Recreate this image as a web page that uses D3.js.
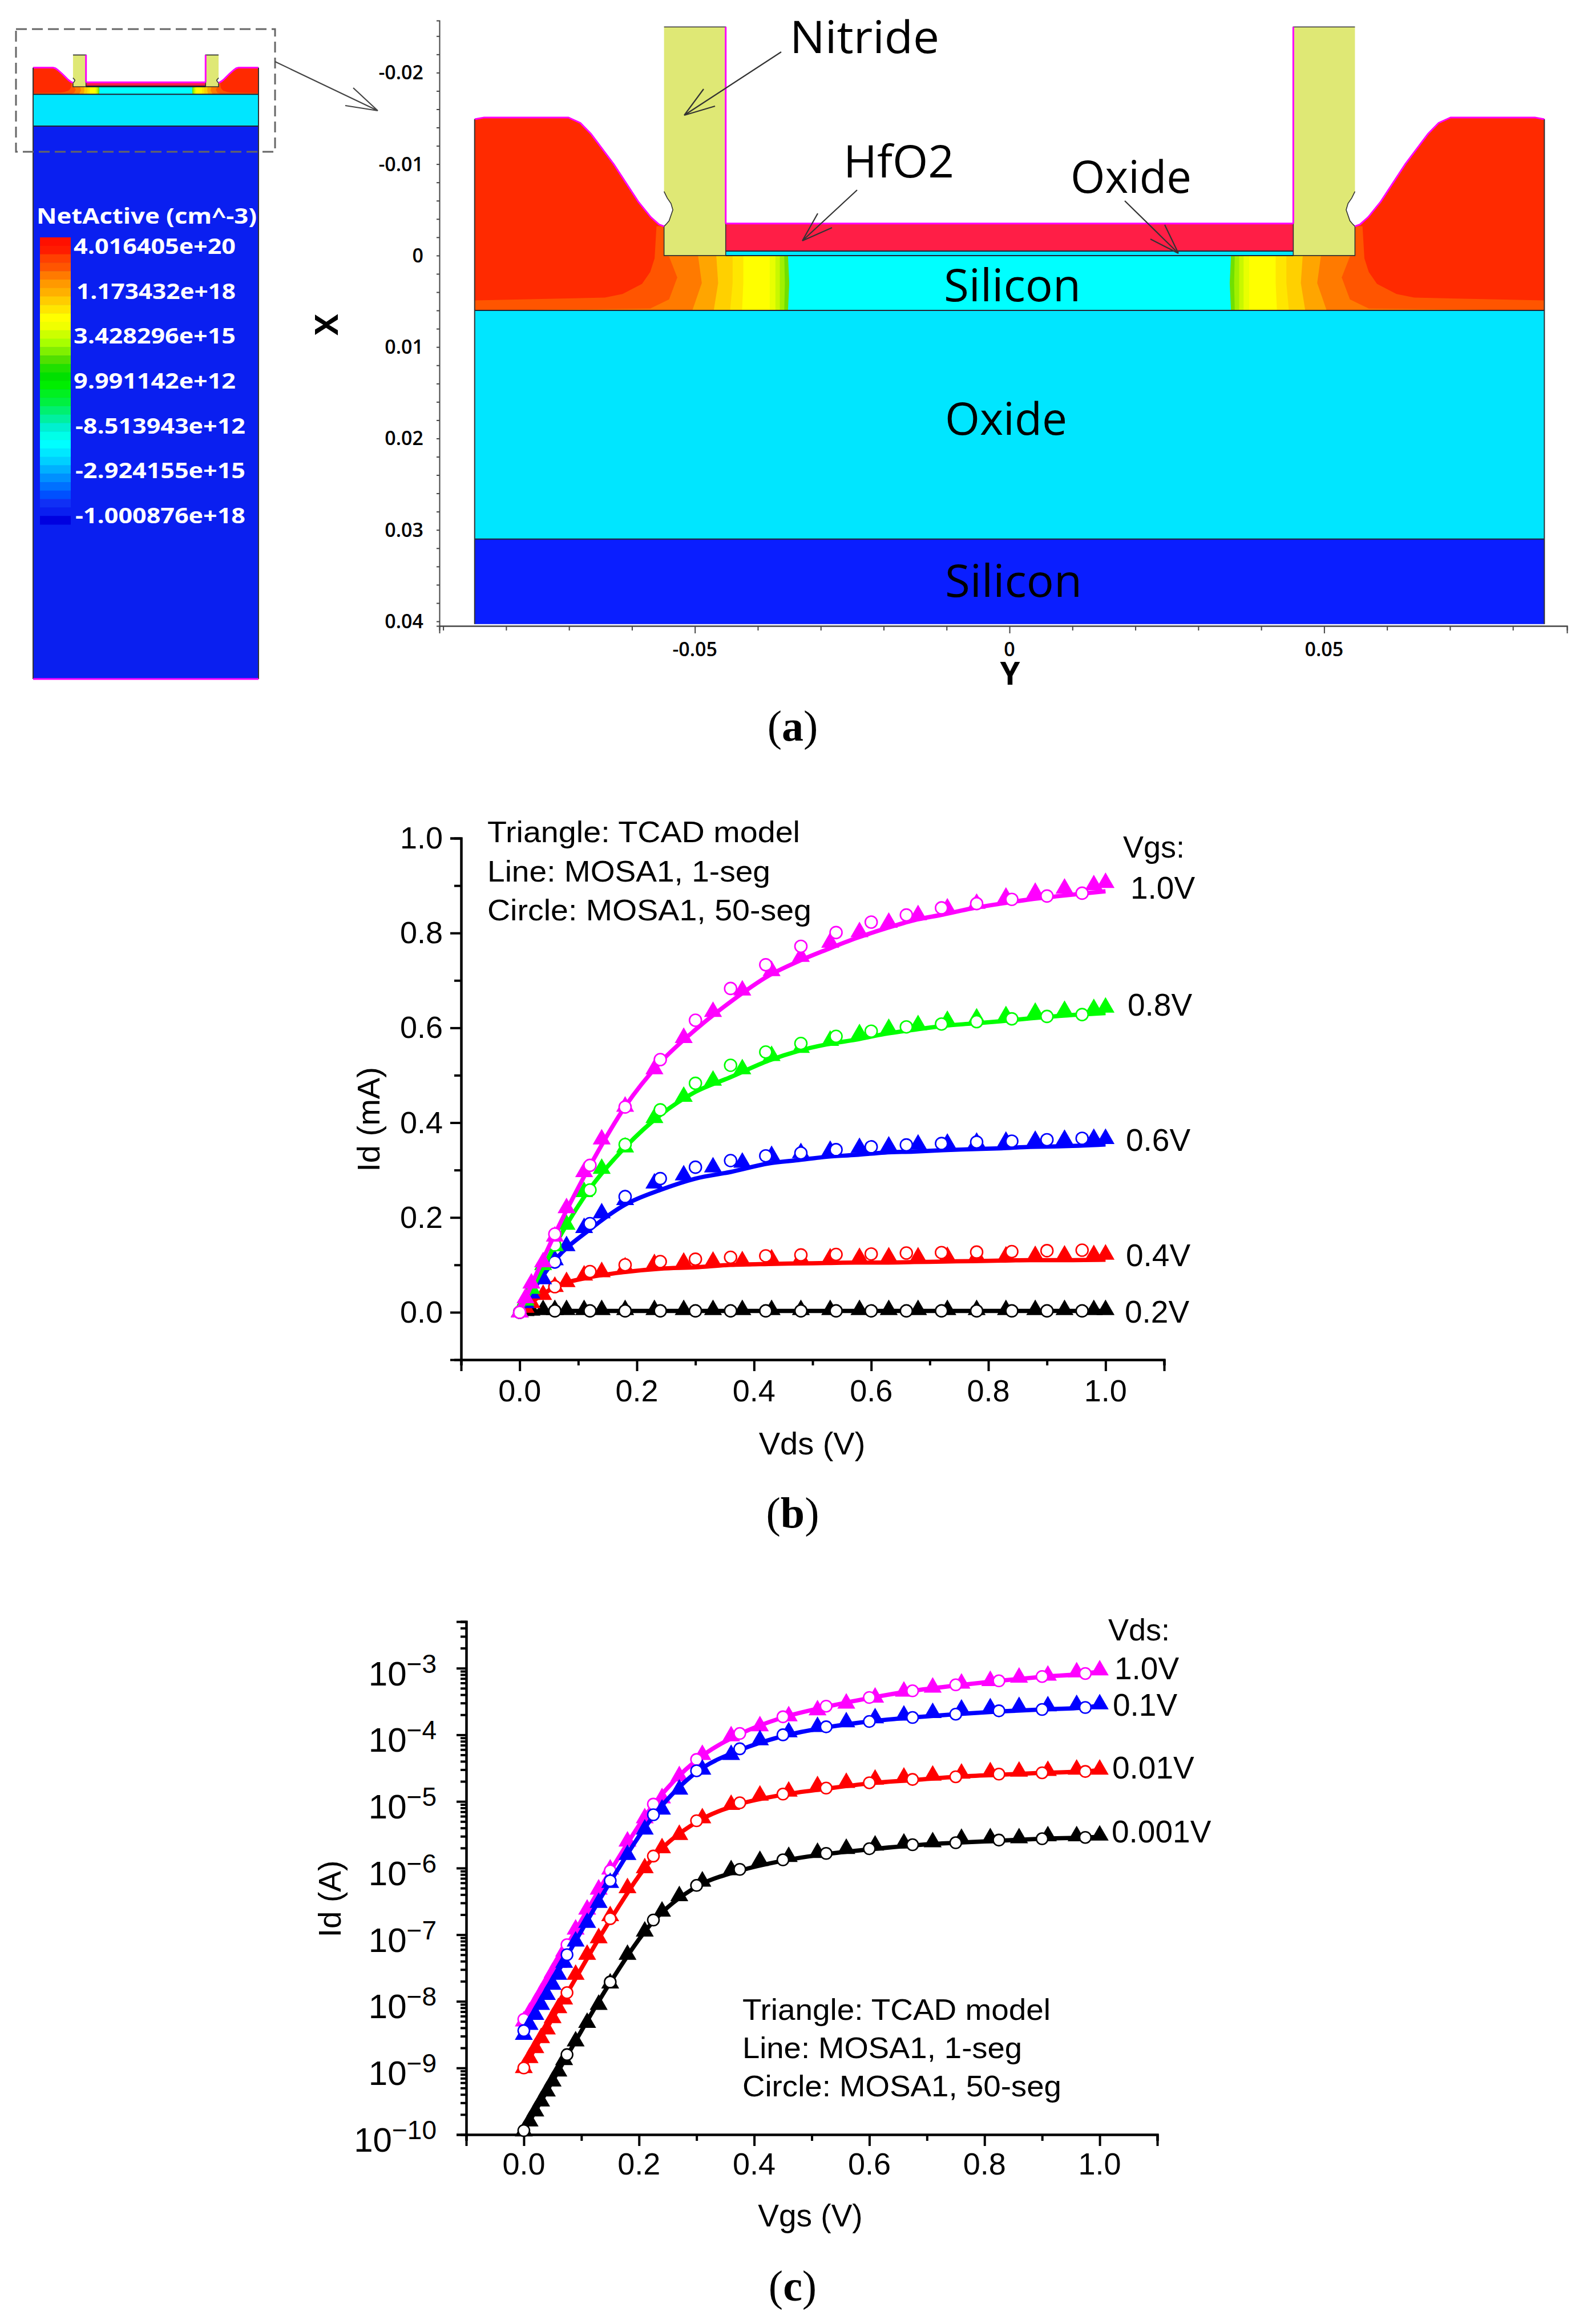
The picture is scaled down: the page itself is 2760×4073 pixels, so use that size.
<!DOCTYPE html>
<html>
<head>
<meta charset="utf-8">
<script src="https://cdnjs.cloudflare.com/ajax/libs/d3/7.8.5/d3.min.js"></script>
<style>
  html, body { margin: 0; padding: 0; background: #fff; }
  svg { display: block; }
  text { fill: #000; }
  .sans { font-family: "Liberation Sans", sans-serif; }
  .tcad { font-family: "Open Sans", sans-serif; }
  .plotaxis path, .plotaxis line { stroke: #000; stroke-width: 4; }
  .tcadaxis path, .tcadaxis line { stroke: #444; stroke-width: 2; }
</style>
</head>
<body>
<div id="chart"></div>
<script>
// panel (a): device cross section, [Y, X] in um
var sourceTop = [[-0.085, -0.0149], [-0.0835, -0.0151], [-0.0701, -0.0151], [-0.0682, -0.0145], [-0.0665, -0.0133],
  [-0.0629, -0.01], [-0.059, -0.0059], [-0.057, -0.0042], [-0.0557, -0.0034], [-0.0549, -0.0032]];
var nitrideShape = [[-0.0549, -0.025], [-0.0451, -0.025], [-0.0451, 0], [-0.0549, 0], [-0.0549, -0.0032], [-0.0546, -0.0034],
  [-0.0541, -0.0038], [-0.0535, -0.005], [-0.0538, -0.0057], [-0.0544, -0.0063], [-0.0549, -0.007]];
var redEdge = [[-0.0561, -0.0032], [-0.0564, 0.0003], [-0.0571, 0.0018], [-0.0584, 0.0031], [-0.0615, 0.0042], [-0.0643, 0.0046], [-0.085, 0.0049]];
var contourEdges = [
  [[-0.0352, 0.006], [-0.035, 0.003], [-0.0352, 0]],
  [[-0.0358, 0.006], [-0.0357, 0.003], [-0.0358, 0]],
  [[-0.0365, 0.006], [-0.0365, 0]],
  [[-0.0372, 0.006], [-0.0372, 0]],
  [[-0.0381, 0.006], [-0.0381, 0]],
  [[-0.0425, 0.006], [-0.0423, 0.003], [-0.0423, 0]],
  [[-0.0444, 0.006], [-0.044, 0.003], [-0.044, 0]],
  [[-0.047, 0.006], [-0.0463, 0.003], [-0.0466, 0]],
  [[-0.0504, 0.006], [-0.0489, 0.003], [-0.0495, 0]],
  [[-0.0571, 0.0058], [-0.0541, 0.0048], [-0.0528, 0.0024], [-0.0541, 0.0001], [-0.0549, 0]]
];
var contourColors = ['#70e000', '#a0f000', '#c8f800', '#e8ff00', '#ffff00', '#ffe600', '#ffd000', '#ffa500', '#ff7a00', '#ff5500'];
var colorbarColors = ['#ff1000', '#ff1c00', '#ff4000', '#ff5500', '#ff7a00', '#ff9900', '#ffb000', '#ffcc00', '#ffe600', '#ffff00',
  '#f0ff00', '#ccff00', '#a8ff00', '#80f000', '#50e000', '#20e000', '#00e000', '#00ee00', '#00f020', '#00f040', '#00f070', '#00f0a0',
  '#00f0d0', '#00ffe8', '#00ffff', '#00e8ff', '#00d0ff', '#00b0ff', '#0090ff', '#0070ff', '#0050ff', '#1030f5', '#0a1ff0', '#0000e0'];
var colorbarLabels = ['4.016405e+20', '1.173432e+18', '3.428296e+15', '9.991142e+12', '-8.513943e+12', '-2.924155e+15', '-1.000876e+18'];

// panel (b): Id (mA) against Vds
var vdsLine = [0, .03, .06, .12, .18, .24, .30, .36, .425, .475, .524, .574, .623, .673, .723, .772, .822, .871, .921, 1.0];
var vdsCircle = [0, .06, .12, .18, .24, .30, .36, .42, .48, .54, .60, .66, .72, .78, .84, .90, .96];
var vdsTcad = [0, .01, .02, .04, .06, .08, .11, .14, .18, .23, .28, .33, .38, .43, .48, .53, .58, .63, .68, .73, .78, .83, .88, .93, .98, 1.0];

var idLine02 = [0, .002, .003, .003, .003, .003, .003, .003, .003, .003, .003, .003, .003, .003, .003, .003, .003, .003, .003, .003];
var idLine04 = [0, .03, .053, .074, .085, .092, .095, .10, .102, .103, .104, .105, .105, .106, .107, .108, .109, .11, .11, .111];
var idLine06 = [0, .06, .11, .175, .227, .258, .282, .296, .314, .321, .328, .332, .337, .339, .342, .344, .346, .349, .35, .354];
var idLine08 = [0, .07, .141, .261, .348, .416, .465, .496, .531, .551, .565, .575, .587, .596, .604, .609, .614, .62, .625, .631];
var idLine10 = [0, .085, .165, .309, .434, .527, .596, .655, .71, .74, .765, .789, .809, .827, .839, .852, .862, .871, .878, .888];

var idCircle02 = [0, .003, .003, .003, .003, .003, .003, .003, .003, .003, .003, .003, .003, .003, .003, .003, .003];
var idCircle04 = [0, .054, .086, .1, .107, .112, .116, .119, .121, .122, .123, .125, .126, .127, .128, .13, .131];
var idCircle06 = [0, .106, .187, .244, .282, .306, .32, .33, .336, .343, .349, .353, .356, .359, .361, .364, .367];
var idCircle08 = [0, .142, .258, .354, .427, .483, .521, .549, .567, .582, .593, .602, .608, .613, .619, .624, .628];
var idCircle10 = [0, .165, .31, .433, .533, .616, .683, .733, .772, .801, .823, .838, .853, .862, .871, .878, .884];

var idTcad02 = [0, .003, .004, .005, .005, .005, .005, .005, .005, .005, .005, .005, .005, .005, .005, .005, .005, .005, .005, .005, .005, .005, .005, .005, .005, .005];
var idTcad04 = [0, .01, .02, .037, .054, .064, .078, .085, .095, .102, .105, .107, .108, .112, .113, .114, .115, .116, .116, .117, .118, .118, .119, .12, .121, .122];
var idTcad06 = [0, .02, .04, .07, .11, .14, .178, .209, .237, .272, .289, .306, .316, .33, .336, .341, .347, .35, .354, .356, .358, .36, .362, .364, .366, .366];
var idTcad08 = [0, .025, .05, .1, .14, .185, .254, .303, .348, .41, .455, .489, .513, .541, .558, .573, .587, .598, .606, .615, .62, .625, .632, .636, .64, .643];
var idTcad10 = [0, .03, .061, .106, .16, .22, .296, .365, .434, .513, .579, .634, .679, .72, .75, .78, .802, .822, .838, .852, .862, .875, .885, .894, .901, .906];

// panel (c): log10 of Id (A) against Vgs
var vgsLine = [0, .075, .15, .225, .3, .375, .45, .525, .6, .675, .75, .825, .9, .975, 1.0];
var vgsCircle = [0, .075, .15, .225, .3, .375, .45, .525, .6, .675, .75, .825, .9, .975];
var vgsTcad = [0, .01, .02, .03, .04, .05, .06, .07, .09, .11, .13, .15, .18, .21, .24, .27, .31, .36, .41, .46, .51, .56, .61, .66, .71, .76, .81, .86, .91, .96, 1.0];

var logLine0001 = [-9.95, -8.82, -7.72, -6.8, -6.28, -6.04, -5.89, -5.79, -5.72, -5.66, -5.62, -5.59, -5.56, -5.54, -5.53];
var logLine001 = [-9.0, -7.88, -6.78, -5.84, -5.31, -5.04, -4.9, -4.81, -4.73, -4.68, -4.63, -4.6, -4.57, -4.55, -4.53];
var logLine01 = [-8.45, -7.32, -6.21, -5.22, -4.56, -4.23, -4.02, -3.89, -3.8, -3.74, -3.69, -3.65, -3.62, -3.59, -3.56];
var logLine10 = [-8.28, -7.16, -6.05, -5.05, -4.38, -3.99, -3.74, -3.58, -3.45, -3.34, -3.26, -3.19, -3.13, -3.08, -3.05];

var logCircle0001 = [-9.94, -8.8, -7.71, -6.78, -6.26, -6.02, -5.877, -5.78, -5.71, -5.65, -5.62, -5.58, -5.56, -5.54];
var logCircle001 = [-9.0, -7.87, -6.76, -5.82, -5.29, -5.02, -4.89, -4.8, -4.72, -4.67, -4.63, -4.59, -4.57, -4.55];
var logCircle01 = [-8.44, -7.3, -6.19, -5.2, -4.54, -4.21, -4, -3.88, -3.8, -3.74, -3.69, -3.64, -3.62, -3.59];
var logCircle10 = [-8.27, -7.15, -6.04, -5.04, -4.37, -3.98, -3.73, -3.57, -3.44, -3.34, -3.25, -3.19, -3.125, -3.08];

var logTcad0001 = [-9.95, -9.8, -9.65, -9.5, -9.35, -9.2, -9.05, -8.88, -8.6, -8.32, -8.05, -7.73, -7.3, -6.95, -6.65, -6.42, -6.2, -6.03, -5.89, -5.83, -5.77, -5.71, -5.66, -5.63, -5.61, -5.56, -5.55, -5.55, -5.52, -5.52, -5.51];
var logTcad001 = [-9.0, -8.85, -8.7, -8.55, -8.42, -8.25, -8.1, -7.97, -7.6, -7.3, -7.05, -6.72, -6.3, -6, -5.7, -5.5, -5.25, -5.05, -4.91, -4.85, -4.77, -4.72, -4.67, -4.64, -4.61, -4.58, -4.56, -4.55, -4.54, -4.52, -4.52];
var logTcad01 = [-8.5, -8.35, -8.2, -8.05, -7.9, -7.75, -7.6, -7.42, -7.1, -6.82, -6.52, -6.22, -5.8, -5.42, -5.12, -4.82, -4.52, -4.3, -4.08, -3.96, -3.88, -3.81, -3.75, -3.71, -3.67, -3.62, -3.6, -3.58, -3.57, -3.55, -3.54];
var logTcad10 = [-8.3, -8.17, -8.03, -7.88, -7.73, -7.57, -7.42, -7.25, -6.92, -6.62, -6.32, -6.02, -5.6, -5.25, -4.95, -4.62, -4.3, -4.02, -3.87, -3.72, -3.63, -3.53, -3.44, -3.35, -3.29, -3.23, -3.19, -3.14, -3.11, -3.06, -3.03];

var decades = [-10, -9, -8, -7, -6, -5, -4, -3];
var legendLines = ['Triangle: TCAD model', 'Line: MOSA1, 1-seg', 'Circle: MOSA1, 50-seg'];

var svg = d3.select('#chart').append('svg')
  .attr('width', 2760)
  .attr('height', 4073);

function label(text, x, y, size, opts) {
  opts = opts || {};
  var t = svg.append('text')
    .attr('class', opts.cls || 'sans')
    .attr('x', x)
    .attr('y', y)
    .attr('font-size', size)
    .attr('text-anchor', opts.anchor || 'start')
    .attr('font-weight', opts.weight || 'normal')
    .text(text);
  if (opts.length) t.attr('textLength', opts.length).attr('lengthAdjust', 'spacingAndGlyphs');
  if (opts.fill) t.style('fill', opts.fill);
  if (opts.rotate) t.attr('transform', 'rotate(-90 ' + x + ' ' + y + ')');
  return t;
}

function arrow(x1, y1, x2, y2, bx1, by1, bx2, by2, color) {
  var d = 'M' + x1 + ',' + y1 + 'L' + x2 + ',' + y2 + 'L' + bx1 + ',' + by1 + 'M' + x2 + ',' + y2 + 'L' + bx2 + ',' + by2;
  svg.append('path').attr('d', d).attr('fill', 'none').attr('stroke', color || '#333').attr('stroke-width', 2.2);
}

// ------- panel (a) -------
function drawDevice(xs, ys, baseBottom, baseColor) {
  var g = svg.append('g');
  var line = d3.line().x(function (d) { return xs(d[0]); }).y(function (d) { return ys(d[1]); });
  var mirror = function (pts) { return pts.map(function (d) { return [-d[0], d[1]]; }); };
  var L = xs.domain()[0] < -0.085 ? -0.085 : xs.domain()[0];

  function rect(y0, y1, x0, x1, color) {
    g.append('rect')
      .attr('x', xs(x0)).attr('y', ys(y0))
      .attr('width', xs(x1) - xs(x0)).attr('height', ys(y1) - ys(y0))
      .attr('fill', color);
  }
  function both(pts, attrs) {
    [pts, mirror(pts)].forEach(function (p) {
      var el = g.append('path').attr('d', line(p));
      Object.keys(attrs).forEach(function (k) { el.attr(k, attrs[k]); });
    });
  }

  rect(0.031, baseBottom, -0.085, 0.085, baseColor);
  rect(0.006, 0.031, -0.085, 0.085, '#00e6ff');
  rect(0, 0.006, -0.085, 0.085, '#00ffff');
  rect(-0.0005, 0, -0.0451, 0.0451, '#00e6ff');
  rect(-0.0035, -0.0005, -0.0451, 0.0451, '#ff1e46');

  // source and drain, painted from the widest contour inwards
  contourEdges.forEach(function (edge, i) {
    var poly = [[L, 0.006]].concat(edge, [[L, 0]]);
    both(poly.concat([poly[0]]), { fill: contourColors[i] });
  });
  both(sourceTop.concat([[-0.0549, 0], [L, 0]]), { fill: '#ff5500' });
  both(sourceTop.concat(redEdge), { fill: '#ff2a00' });
  both(nitrideShape, { fill: '#dfe875', stroke: '#333', 'stroke-width': 1.6 });

  // exposed surfaces are outlined in magenta
  both(sourceTop, { fill: 'none', stroke: '#ff00ff', 'stroke-width': 3 });
  both([[-0.0451, -0.025], [-0.0451, -0.0035]], { fill: 'none', stroke: '#ff00ff', 'stroke-width': 3 });
  g.append('path').attr('d', line([[-0.0451, -0.0035], [0.0451, -0.0035]]))
    .attr('fill', 'none').attr('stroke', '#ff00ff').attr('stroke-width', 3);

  [[-0.0005], [0], [0.006], [0.031]].forEach(function (d) {
    var from = d[0] > 0 ? -0.085 : -0.0451;
    g.append('path').attr('d', line([[from, d[0]], [-from, d[0]]]))
      .attr('fill', 'none').attr('stroke', '#223').attr('stroke-width', 2);
  });
  [-0.085, 0.085].forEach(function (d) {
    g.append('path').attr('d', line([[d, -0.0149], [d, baseBottom]]))
      .attr('fill', 'none').attr('stroke', '#333').attr('stroke-width', 2);
  });
}

// overview thumbnail
var thumbX = d3.scaleLinear().domain([-0.085, 0.085]).range([58, 453]);
var thumbY = d3.scaleLinear().domain([0, 0.031]).range([152, 221]);
drawDevice(thumbX, thumbY, 0.4663, '#0a1ff0');
svg.append('path')
  .attr('d', 'M' + thumbX(-0.085) + ',' + thumbY(0.4663) + 'H' + thumbX(0.085))
  .attr('stroke', '#ff00ff').attr('stroke-width', 3);

svg.append('rect')
  .attr('x', 28).attr('y', 51).attr('width', 454).attr('height', 215)
  .attr('fill', 'none').attr('stroke', '#666').attr('stroke-width', 3)
  .attr('stroke-dasharray', '19,9');

var barY = d3.scaleBand().domain(d3.range(colorbarColors.length)).range([416, 919]);
svg.append('g').selectAll('rect')
  .data(colorbarColors)
  .enter().append('rect')
    .attr('x', 70)
    .attr('y', function (d, i) { return barY(i); })
    .attr('width', 54)
    .attr('height', barY.bandwidth() + 0.5)
    .attr('fill', function (d) { return d; });

var barLabelY = d3.scaleLinear().domain([0, 6]).range([445, 917]);
label('NetActive (cm^-3)', 64, 392, 38, { cls: 'tcad', weight: 'bold', fill: '#fff', length: 386 });
colorbarLabels.forEach(function (d, i) {
  var neg = d.charAt(0) === '-';
  var x = neg ? 132 : (d.charAt(0) === '1' ? 134 : 129);
  label(d, x, barLabelY(i), 38, { cls: 'tcad', weight: 'bold', fill: '#fff', length: (neg ? 430 : 413) - x });
});

// enlarged view
var mainX = d3.scaleLinear().domain([-0.0906, 0.0886]).range([770, 2746]);
var mainY = d3.scaleLinear().domain([-0.0257, 0.0405]).range([36, 1097]);
drawDevice(mainX, mainY, 0.0403, '#0a1eff');

var mainMajorY = [-0.02, -0.01, 0, 0.01, 0.02, 0.03, 0.04];
var mainMinorY = d3.range(-0.024, 0.0401, 0.002);
var mainMajorX = [-0.05, 0, 0.05];
var mainMinorX = [-0.09, -0.08, -0.07, -0.06, -0.04, -0.03, -0.02, -0.01, 0.01, 0.02, 0.03, 0.04, 0.06, 0.07, 0.08];

svg.append('g').attr('class', 'tcadaxis').attr('transform', 'translate(770,0)')
  .call(d3.axisLeft(mainY).tickValues(mainMinorY).tickSize(5).tickFormat(''));
svg.append('g').attr('class', 'tcadaxis').attr('transform', 'translate(0,1097)')
  .call(d3.axisBottom(mainX).tickValues(mainMinorX).tickSize(8).tickFormat(''));
svg.append('g').attr('class', 'tcadaxis').attr('transform', 'translate(0,1097)')
  .call(d3.axisBottom(mainX).tickValues(mainMajorX).tickSize(13).tickFormat(''));

mainMajorY.forEach(function (d) {
  label(d === 0 ? '0' : String(d), 742, mainY(d) + 12, 34, { cls: 'tcad', anchor: 'end', weight: 600 });
});
mainMajorX.forEach(function (d) {
  label(d === 0 ? '0' : String(d), mainX(d), 1150, 34, { cls: 'tcad', anchor: 'middle', weight: 600 });
});
label('X', 592, 569, 56, { cls: 'tcad', anchor: 'middle', weight: 'bold', rotate: true });
label('Y', 1770, 1200, 56, { cls: 'tcad', anchor: 'middle', weight: 'bold' });

label('Nitride', 1384, 93, 78, { cls: 'tcad', length: 262 });
label('HfO2', 1478, 311, 78, { cls: 'tcad', length: 194 });
label('Oxide', 1876, 338, 78, { cls: 'tcad', length: 212 });
label('Silicon', 1654, 528, 78, { cls: 'tcad', length: 240 });
label('Oxide', 1656, 762, 78, { cls: 'tcad', length: 214 });
label('Silicon', 1656, 1046, 78, { cls: 'tcad', length: 240 });

arrow(1369, 91, 1199, 202, 1233, 156, 1253, 186);
arrow(1502, 333, 1406, 422, 1433, 374, 1458, 399);
arrow(1971, 352, 2065, 444, 2041, 394, 2016, 419);
arrow(482, 108, 662, 194, 619, 154, 605, 185, '#444');

function caption(letter, y) {
  var t = svg.append('text')
    .attr('x', 1389).attr('y', y)
    .attr('text-anchor', 'middle')
    .attr('font-family', '"Liberation Serif", serif')
    .attr('font-size', 76);
  t.append('tspan').text('(');
  t.append('tspan').attr('font-weight', 'bold').text(letter);
  t.append('tspan').text(')');
}
caption('a', 1298);

// ------- panels (b) and (c) -------
function drawSeries(g, s, xs, ys, cfg) {
  var toY = cfg.toY || function (v) { return v; };
  var pts = function (xv, yv) { return xv.map(function (x, i) { return [xs(x), ys(toY(yv[i]))]; }); };

  g.append('path')
    .attr('d', d3.line().curve(d3.curveMonotoneX)(pts(cfg.xLine, s.line)))
    .attr('fill', 'none')
    .attr('stroke', s.color)
    .attr('stroke-width', 7.5);

  g.append('g').selectAll('path')
    .data(pts(cfg.xTcad, s.tcad))
    .enter().append('path')
      .attr('d', d3.symbol(d3.symbolTriangle, cfg.triSize))
      .attr('transform', function (d) { return 'translate(' + d[0] + ',' + d[1] + ')'; })
      .attr('fill', s.color);

  g.append('g').selectAll('circle')
    .data(pts(cfg.xCircle, s.circle))
    .enter().append('circle')
      .attr('cx', function (d) { return d[0]; })
      .attr('cy', function (d) { return d[1]; })
      .attr('r', cfg.r)
      .attr('fill', '#fff')
      .attr('stroke', s.color)
      .attr('stroke-width', 2.6);
}

// panel (b)
var bX = d3.scaleLinear().domain([-0.1, 1.1]).range([808, 2040]);
var bY = d3.scaleLinear().domain([-0.1, 1.0]).range([2383, 1469]);
var bMajorX = [0, 0.2, 0.4, 0.6, 0.8, 1.0];
var bMinorX = [-0.1, 0.1, 0.3, 0.5, 0.7, 0.9, 1.1];
var bMajorY = [0, 0.2, 0.4, 0.6, 0.8, 1.0];
var bMinorY = [0.1, 0.3, 0.5, 0.7, 0.9];

svg.append('g').attr('class', 'plotaxis').attr('transform', 'translate(808,0)')
  .call(d3.axisLeft(bY).tickValues(bMinorY).tickSize(12).tickFormat(''));
svg.append('g').attr('class', 'plotaxis').attr('transform', 'translate(808,0)')
  .call(d3.axisLeft(bY).tickValues(bMajorY).tickSize(19).tickFormat(''));
svg.append('g').attr('class', 'plotaxis').attr('transform', 'translate(0,2383)')
  .call(d3.axisBottom(bX).tickValues(bMinorX).tickSize(10).tickFormat(''));
svg.append('g').attr('class', 'plotaxis').attr('transform', 'translate(0,2383)')
  .call(d3.axisBottom(bX).tickValues(bMajorX).tickSize(20).tickFormat(''));

bMajorX.forEach(function (d) { label(d.toFixed(1), bX(d), 2456, 54, { anchor: 'middle' }); });
bMajorY.forEach(function (d) { label(d.toFixed(1), 776, bY(d) + 18, 54, { anchor: 'end' }); });
label('Vds (V)', 1423, 2549, 56, { anchor: 'middle' });
label('Id (mA)', 665, 1962, 56, { anchor: 'middle', rotate: true });

var bSeries = [
  { color: '#000000', line: idLine02, tcad: idTcad02, circle: idCircle02 },
  { color: '#ff0000', line: idLine04, tcad: idTcad04, circle: idCircle04 },
  { color: '#0000ff', line: idLine06, tcad: idTcad06, circle: idCircle06 },
  { color: '#00ff00', line: idLine08, tcad: idTcad08, circle: idCircle08 },
  { color: '#ff00ff', line: idLine10, tcad: idTcad10, circle: idCircle10 }
];
var bPlot = svg.append('g');
bSeries.forEach(function (s) {
  drawSeries(bPlot, s, bX, bY, { xLine: vdsLine, xTcad: vdsTcad, xCircle: vdsCircle, triSize: 430, r: 10.5 });
});

label(legendLines[0], 854, 1476, 52, { length: 548 });
label(legendLines[1], 854, 1545, 52, { length: 496 });
label(legendLines[2], 854, 1613, 52, { length: 568 });
label('Vgs:', 1968, 1503, 54);
label('1.0V', 1981, 1575, 55);
label('0.8V', 1976, 1780, 55);
label('0.6V', 1973, 2017, 55);
label('0.4V', 1973, 2219, 55);
label('0.2V', 1971, 2318, 55);
caption('b', 2677);

// panel (c)
var cX = d3.scaleLinear().domain([-0.1, 1.1]).range([817, 2028]);
var cY = d3.scaleLog().domain([1e-10, 5e-3]).range([3741, 2842]);
var cMajorX = [0, 0.2, 0.4, 0.6, 0.8, 1.0];
var cMinorX = [-0.1, 0.1, 0.3, 0.5, 0.7, 0.9, 1.1];
var cMajorY = decades.map(function (d) { return Math.pow(10, d); });
var cMinorY = [];
decades.forEach(function (d) {
  [2, 3, 4, 5, 6, 7, 8, 9].forEach(function (m) {
    var v = m * Math.pow(10, d);
    if (v <= 5e-3) cMinorY.push(v);
  });
});

svg.append('g').attr('class', 'plotaxis').attr('transform', 'translate(817,0)')
  .call(d3.axisLeft(cY).tickValues(cMinorY).tickSize(10).tickFormat(''));
svg.append('g').attr('class', 'plotaxis').attr('transform', 'translate(817,0)')
  .call(d3.axisLeft(cY).tickValues(cMajorY).tickSize(17).tickFormat(''));
svg.append('g').attr('class', 'plotaxis').attr('transform', 'translate(0,3741)')
  .call(d3.axisBottom(cX).tickValues(cMinorX).tickSize(11).tickFormat(''));
svg.append('g').attr('class', 'plotaxis').attr('transform', 'translate(0,3741)')
  .call(d3.axisBottom(cX).tickValues(cMajorX).tickSize(20).tickFormat(''));

cMajorX.forEach(function (d) { label(d.toFixed(1), cX(d), 3811, 54, { anchor: 'middle' }); });
decades.forEach(function (d) {
  var t = label('10', 765, cY(Math.pow(10, d)) + 30, 60, { anchor: 'end' });
  t.append('tspan')
    .attr('dy', -22)
    .attr('font-size', 46)
    .text('\u2212' + Math.abs(d));
});
label('Vgs (V)', 1420, 3902, 55, { anchor: 'middle' });
label('Id (A)', 597, 3328, 55, { anchor: 'middle', rotate: true });

var cSeries = [
  { color: '#000000', line: logLine0001, tcad: logTcad0001, circle: logCircle0001 },
  { color: '#ff0000', line: logLine001, tcad: logTcad001, circle: logCircle001 },
  { color: '#ff00ff', line: logLine10, tcad: logTcad10, circle: logCircle10 },
  { color: '#0000ff', line: logLine01, tcad: logTcad01, circle: logCircle01 }
];
var cPlot = svg.append('g');
cSeries.forEach(function (s) {
  drawSeries(cPlot, s, cX, cY, {
    xLine: vgsLine, xTcad: vgsTcad, xCircle: vgsCircle, triSize: 430, r: 10,
    toY: function (v) { return Math.pow(10, v); }
  });
});

label(legendLines[0], 1301, 3540, 52, { length: 540 });
label(legendLines[1], 1301, 3607, 52, { length: 490 });
label(legendLines[2], 1301, 3674, 52, { length: 559 });
label('Vds:', 1942, 2875, 54);
label('1.0V', 1953, 2943, 55);
label('0.1V', 1950, 3007, 55);
label('0.01V', 1949, 3117, 55);
label('0.001V', 1948, 3229, 55);
caption('c', 4032);
</script>
</body>
</html>
